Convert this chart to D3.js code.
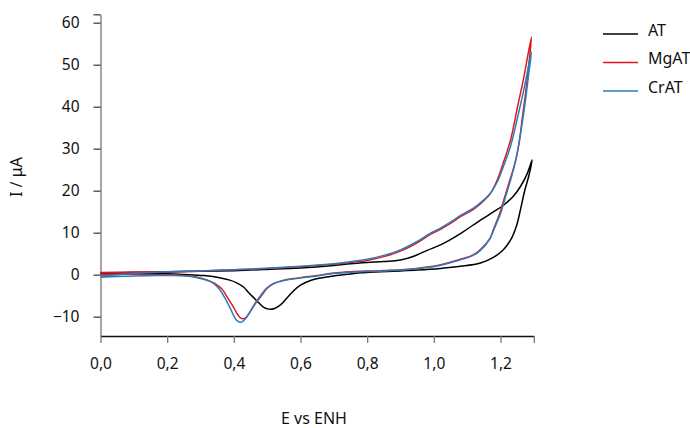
<!DOCTYPE html>
<html>
<head>
<meta charset="utf-8">
<script src="https://cdn.jsdelivr.net/npm/d3@7"></script>
<style>
  html, body { margin: 0; padding: 0; background: #fff; }
  svg { display: block; font-family: "Noto Sans", "Open Sans", sans-serif; }
</style>
</head>
<body>
<svg id="chart" width="690" height="428"></svg>
<script>
// ---- data ----
const seriesNames = ["AT", "MgAT", "CrAT"];
const seriesColors = ["#000000", "#e0181e", "#2a7db8"];

const atE = [0, 0.1, 0.2, 0.3, 0.4, 0.5, 0.6, 0.7, 0.75, 0.8, 0.85, 0.9, 0.94, 0.98, 1.02, 1.08, 1.14, 1.18, 1.21, 1.24, 1.26, 1.28, 1.295,
  1.285, 1.273, 1.26, 1.248, 1.23, 1.208, 1.18, 1.14, 1.08, 1.02, 0.95, 0.9, 0.84, 0.78, 0.74, 0.7, 0.66, 0.63, 0.6, 0.58, 0.56, 0.54, 0.52, 0.505, 0.49, 0.475, 0.46, 0.445, 0.43, 0.41, 0.388, 0.35, 0.31, 0.25, 0.2, 0.1, 0];
const atI = [0.45, 0.55, 0.65, 0.8, 0.95, 1.25, 1.6, 2.2, 2.6, 2.9, 3.15, 3.5, 4.4, 5.8, 7.1, 9.8, 13.0, 15.0, 16.6, 18.8, 21, 24, 27.3,
  23.5, 20.1, 15.5, 11.6, 8.2, 5.9, 4.2, 2.8, 2.0, 1.5, 1.1, 0.9, 0.7, 0.45, 0.1, -0.3, -0.8, -1.4, -2.5, -3.8, -5.5, -7.2, -8.1, -8.2, -7.8, -6.7, -5.5, -4.3, -3.0, -2.0, -1.3, -0.6, -0.2, 0.05, 0.2, 0.3, 0.35];

const mgE = [0, 0.1, 0.2, 0.3, 0.4, 0.5, 0.6, 0.7, 0.75, 0.8, 0.85, 0.9, 0.95, 0.99, 1.02, 1.05, 1.08, 1.12, 1.15, 1.17, 1.19, 1.21, 1.23, 1.25, 1.27, 1.293,
  1.285, 1.275, 1.265, 1.258, 1.248, 1.238, 1.228, 1.21, 1.198, 1.18, 1.168, 1.14, 1.118, 1.078, 1.018, 0.948, 0.85, 0.75, 0.7, 0.65, 0.6, 0.55, 0.52, 0.5, 0.488, 0.47, 0.458, 0.445, 0.433, 0.42, 0.41, 0.398, 0.383, 0.363, 0.345, 0.333, 0.31, 0.283, 0.23, 0.183, 0.1, 0];
const mgI = [0.5, 0.55, 0.7, 0.9, 1.15, 1.5, 1.9, 2.5, 2.9, 3.4, 4.3, 5.6, 7.6, 9.6, 10.8, 12.2, 13.8, 15.6, 17.6, 19.4, 22.5, 27, 32, 39.5, 47, 56.6,
  50, 43, 37, 32.5, 28, 25, 22.5, 17.8, 14.6, 11.0, 8.6, 6.0, 4.7, 3.6, 2.3, 1.5, 1.0, 0.7, 0.4, -0.2, -0.7, -1.3, -2.1, -3.2, -4.5, -6.3, -7.7, -9.3, -10.4, -10.3, -9.3, -7.6, -5.7, -3.3, -2.2, -1.7, -1.0, -0.5, -0.1, 0.0, 0.1, 0.1];

const crE = [0, 0.05, 0.1, 0.15, 0.2, 0.3, 0.4, 0.5, 0.6, 0.7, 0.75, 0.8, 0.85, 0.9, 0.95, 0.99, 1.02, 1.05, 1.08, 1.12, 1.15, 1.17, 1.19, 1.21, 1.23, 1.25, 1.27, 1.293,
  1.285, 1.275, 1.265, 1.255, 1.245, 1.232, 1.215, 1.2, 1.18, 1.168, 1.14, 1.118, 1.078, 1.018, 0.948, 0.85, 0.75, 0.7, 0.65, 0.6, 0.55, 0.515, 0.495, 0.48, 0.462, 0.45, 0.437, 0.423, 0.41, 0.4, 0.388, 0.373, 0.355, 0.338, 0.325, 0.3, 0.275, 0.22, 0.17, 0.1, 0.05, 0];
const crI = [-0.3, 0.0, 0.3, 0.5, 0.7, 0.9, 1.2, 1.55, 2.0, 2.6, 3.1, 3.7, 4.6, 5.9, 7.9, 9.9, 11.1, 12.5, 14.1, 15.9, 17.8, 19.4, 22.0, 26, 30.5, 37, 44, 53,
  48, 41.5, 36, 31, 27, 23, 18.5, 14.5, 10.7, 8.5, 5.8, 4.6, 3.5, 2.2, 1.4, 0.9, 0.6, 0.3, -0.3, -0.8, -1.4, -2.3, -3.5, -5.0, -7.0, -8.7, -10.3, -11.3, -11.0, -9.8, -7.8, -5.5, -3.3, -2.0, -1.5, -0.9, -0.5, -0.2, -0.2, -0.3, -0.45, -0.6];

const xTicks = [0, 0.2, 0.4, 0.6, 0.8, 1.0, 1.2];
const yTicks = [-10, 0, 10, 20, 30, 40, 50, 60];
const xDomain = [0, 1.3];
const yDomain = [-14.6, 62];
const xTitle = "E vs ENH";
const yTitle = "I / μA";

// ---- drawing ----
const svg = d3.select("#chart");
const x = d3.scaleLinear().domain(xDomain).range([100.5, 533.8]);
const y = d3.scaleLinear().domain(yDomain).range([336, 14.3]);

const fmtX = v => d3.format(".1f")(v).replace(".", ",");

// y axis
const yAxis = d3.axisLeft(y)
  .tickValues(yTicks.concat([yDomain[1]]))
  .tickFormat(v => yTicks.includes(v) ? d3.format("d")(v) : "")
  .tickSize(7).tickPadding(14).tickSizeOuter(0);
const gy = svg.append("g").attr("transform", `translate(${x(0)},0)`).call(yAxis);
gy.select(".domain").attr("stroke", "#777").attr("stroke-width", 1.3);
gy.selectAll(".tick line").attr("stroke", "#333").attr("stroke-width", 1.2);
gy.selectAll(".tick text").attr("font-size", "15.5px").attr("fill", "#111")
  .attr("font-family", "Noto Sans, Open Sans, sans-serif");

// x axis
const xAxis = d3.axisBottom(x)
  .tickValues(xTicks.concat([xDomain[1]]))
  .tickFormat(v => xTicks.includes(v) ? fmtX(v) : "")
  .tickSize(7).tickPadding(15).tickSizeOuter(0);
const gx = svg.append("g").attr("transform", `translate(0,${y(yDomain[0])})`).call(xAxis);
gx.select(".domain").attr("stroke", "#111").attr("stroke-width", 1.3);
gx.selectAll(".tick line").attr("stroke", "#777").attr("stroke-width", 1.3);
gx.selectAll(".tick text").attr("font-size", "15.5px").attr("fill", "#111")
  .attr("font-family", "Noto Sans, Open Sans, sans-serif");

// titles
svg.append("text").attr("x", 314).attr("y", 424).attr("text-anchor", "middle")
  .attr("font-size", "16px").attr("fill", "#111").text(xTitle);
svg.append("text").attr("transform", "translate(22,177) rotate(-90)").attr("text-anchor", "middle")
  .attr("font-size", "16px").attr("fill", "#111").text(yTitle);

// curves
const line = d3.line().x(d => x(d[0])).y(d => y(d[1])).curve(d3.curveCatmullRom.alpha(0.5));
const seriesData = [
  d3.zip(atE, atI),
  d3.zip(mgE, mgI),
  d3.zip(crE, crI)
];
svg.append("g").selectAll("path").data(seriesData).join("path")
  .attr("d", line).attr("fill", "none")
  .attr("stroke", (d, i) => seriesColors[i]).attr("stroke-width", 1.5)
  .attr("stroke-linejoin", "round");

// legend
const legY = [34, 62.5, 91];
const leg = svg.append("g");
seriesNames.forEach((n, i) => {
  leg.append("line").attr("x1", 603).attr("x2", 638).attr("y1", legY[i]).attr("y2", legY[i])
    .attr("stroke", seriesColors[i]).attr("stroke-width", 1.5);
  leg.append("text").attr("x", 648).attr("y", legY[i] + 1.5).attr("font-size", "16px")
    .attr("fill", "#111").text(n);
});
</script>
</body>
</html>
